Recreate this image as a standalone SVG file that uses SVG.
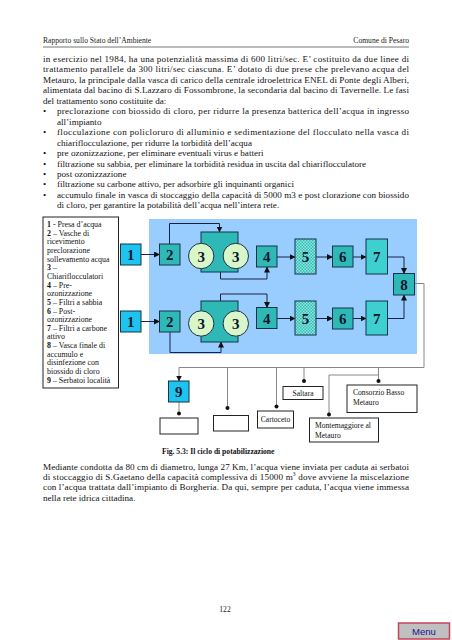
<svg xmlns="http://www.w3.org/2000/svg" width="452" height="640" viewBox="0 0 452 640">
<style>
.hd{font-family:"Liberation Serif","Times New Roman",serif;font-size:7.6px;fill:#222}
.bd{font-family:"Liberation Serif","Times New Roman",serif;font-size:9.1px;fill:#111}
.lg{font-family:"Liberation Serif","Times New Roman",serif;font-size:7.9px;fill:#111}
.lb{font-family:"Liberation Serif","Times New Roman",serif;font-size:7.6px;fill:#111}
.cap{font-family:"Liberation Serif","Times New Roman",serif;font-size:7.6px;font-weight:bold;fill:#111}
.num{font-family:"Liberation Serif","Times New Roman",serif;font-size:15px;font-weight:bold;fill:#0b1530;text-anchor:middle}
.cy{fill:#1cc4ef;stroke:#16324a;stroke-width:1}
.tl{fill:#2fb9b6;stroke:#16324a;stroke-width:1}
.t7{fill:#3ecfcf;stroke:#16324a;stroke-width:1}
.ck{fill:url(#chk);stroke:#16324a;stroke-width:1}
.cl{fill:#d8f6c8;stroke:#16324a;stroke-width:1}
.wb{fill:#fff;stroke:#222;stroke-width:1}
.ln{fill:none;stroke:#1a2240;stroke-width:1}
.gl{fill:none;stroke:#888;stroke-width:1}
.b{font-weight:bold}
</style>
<defs>
<pattern id="chk" width="3" height="3" patternUnits="userSpaceOnUse">
<rect width="3" height="3" fill="#8fe6dc"/>
<rect width="1.5" height="1.5" fill="#33bcb8"/>
<rect x="1.5" y="1.5" width="1.5" height="1.5" fill="#33bcb8"/>
</pattern>
<marker id="ar" markerUnits="userSpaceOnUse" markerWidth="6" markerHeight="6" refX="5.5" refY="3" orient="auto">
<path d="M0,0 L6,3 L0,6 z" fill="#111"/>
</marker>
</defs>
<rect width="452" height="640" fill="#fff"/>

<g id="header">
<text class="hd" x="43" y="42.5">Rapporto sullo Stato dell’Ambiente</text>
<text class="hd" x="409" y="42.5" text-anchor="end">Comune di Pesaro</text>
<line x1="43" y1="47" x2="409" y2="47" stroke="#777" stroke-width="1.2"/>
</g>

<g id="body-text">
<text class="bd" x="43" y="62" textLength="366" lengthAdjust="spacing">in esercizio nel 1984, ha una potenzialità massima di 600 litri/sec. E’ costituito da due linee di</text>
<text class="bd" x="43" y="72.45" textLength="366" lengthAdjust="spacing">trattamento parallele da 300 litri/sec ciascuna. E’ dotato di due prese che prelevano acqua del</text>
<text class="bd" x="43" y="82.9" textLength="366" lengthAdjust="spacing">Metauro, la principale dalla vasca di carico della centrale idroelettrica ENEL di Ponte degli Alberi,</text>
<text class="bd" x="43" y="93.35" textLength="366" lengthAdjust="spacing">alimentata dal bacino di S.Lazzaro di Fossombrone, la secondaria dal bacino di Tavernelle. Le fasi</text>
<text class="bd" x="43" y="103.8">del trattamento sono costituite da:</text>
<text class="bd" x="43" y="114.25">•</text>
<text class="bd" x="57" y="114.25" textLength="352" lengthAdjust="spacing">preclorazione con biossido di cloro, per ridurre la presenza batterica dell’acqua in ingresso</text>
<text class="bd" x="57" y="124.7">all’impianto</text>
<text class="bd" x="43" y="135.15">•</text>
<text class="bd" x="57" y="135.15" textLength="352" lengthAdjust="spacing">flocculazione con policloruro di alluminio e sedimentazione del flocculato nella vasca di</text>
<text class="bd" x="57" y="145.6">chiariflocculazione, per ridurre la torbidità dell’acqua</text>
<text class="bd" x="43" y="156.05">•</text>
<text class="bd" x="57" y="156.05">pre ozonizzazione, per eliminare eventuali virus e batteri</text>
<text class="bd" x="43" y="166.5">•</text>
<text class="bd" x="57" y="166.5">filtrazione su sabbia, per eliminare la torbidità residua in uscita dal chiariflocculatore</text>
<text class="bd" x="43" y="176.95">•</text>
<text class="bd" x="57" y="176.95">post ozonizzazione</text>
<text class="bd" x="43" y="187.4">•</text>
<text class="bd" x="57" y="187.4">filtrazione su carbone attivo, per adsorbire gli inquinanti organici</text>
<text class="bd" x="43" y="197.85">•</text>
<text class="bd" x="57" y="197.85" textLength="352" lengthAdjust="spacing">accumulo finale in vasca di stoccaggio della capacità di 5000 m3 e post clorazione con biossido</text>
<text class="bd" x="57" y="208.3">di cloro, per garantire la potabilità dell’acqua nell’intera rete.</text>
</g>

<g id="legend">
<rect x="43" y="217" width="75.5" height="171" fill="#fff" stroke="#222" stroke-width="1"/>
<text class="lg" x="47" y="227"><tspan class="b">1</tspan> - Presa d’acqua</text>
<text class="lg" x="47" y="235.65"><tspan class="b">2</tspan> – Vasche di</text>
<text class="lg" x="47" y="244.3">ricevimento</text>
<text class="lg" x="47" y="252.95">preclorazione</text>
<text class="lg" x="47" y="261.6">sollevamento acqua</text>
<text class="lg" x="47" y="270.25"><tspan class="b">3</tspan> –</text>
<text class="lg" x="47" y="278.9">Chiariflocculatori</text>
<text class="lg" x="47" y="287.55"><tspan class="b">4</tspan> – Pre-</text>
<text class="lg" x="47" y="296.2">ozonizzazione</text>
<text class="lg" x="47" y="304.85"><tspan class="b">5</tspan> – Filtri a sabbia</text>
<text class="lg" x="47" y="313.5"><tspan class="b">6</tspan> – Post-</text>
<text class="lg" x="47" y="322.15">ozonizzazione</text>
<text class="lg" x="47" y="330.8"><tspan class="b">7</tspan> – Filtri a carbone</text>
<text class="lg" x="47" y="339.45">attivo</text>
<text class="lg" x="47" y="348.1"><tspan class="b">8</tspan> – Vasca finale di</text>
<text class="lg" x="47" y="356.75">accumulo e</text>
<text class="lg" x="47" y="365.4">disinfezione con</text>
<text class="lg" x="47" y="374.05">biossido di cloro</text>
<text class="lg" x="47" y="382.7"><tspan class="b">9</tspan> – Serbatoi località</text>
</g>

<rect id="plant-area" x="149" y="219" width="268" height="135" fill="#99ccff"/>

<g id="connectors">
<path class="ln" d="M141 254.5 H159.5" marker-end="url(#ar)"/>
<path class="ln" d="M141 321.5 H159.5" marker-end="url(#ar)"/>
<path class="ln" d="M169.5 244 V223.5 H219.5 V232" marker-end="url(#ar)"/>
<path class="ln" d="M220.5 272 V279 H267 V267" marker-end="url(#ar)"/>
<path class="ln" d="M277 257 H295" marker-end="url(#ar)"/>
<path class="ln" d="M316 257 H332.5" marker-end="url(#ar)"/>
<path class="ln" d="M353 257 H366" marker-end="url(#ar)"/>
<path class="ln" d="M387.5 257 H404 V273.5" marker-end="url(#ar)"/>
<path class="ln" d="M170 332 V352.5 H221 V342" marker-end="url(#ar)"/>
<path class="ln" d="M220.5 301 V294 H267 V307.5" marker-end="url(#ar)"/>
<path class="ln" d="M277 318.5 H295" marker-end="url(#ar)"/>
<path class="ln" d="M316 318.5 H332.5" marker-end="url(#ar)"/>
<path class="ln" d="M353 318.5 H366" marker-end="url(#ar)"/>
<path class="ln" d="M387.5 318.5 H404 V295" marker-end="url(#ar)"/>
<path class="gl" d="M414.5 283.5 H424 V367.5 H179 V381" marker-end="url(#ar)"/>
<path class="gl" d="M227.5 367.5 V408"/>
<path class="gl" d="M276.5 367.5 V406.5"/>
<path class="gl" d="M304 367.5 V381"/>
<path class="gl" d="M378.5 367.5 V381"/>
<path class="gl" d="M329 414.5 V375 H378.5"/>
<path class="gl" d="M179 402 V413.5"/>
<g fill="#111">
<circle cx="179" cy="413.5" r="2"/>
<circle cx="227.5" cy="408" r="2"/>
<circle cx="276.5" cy="406.5" r="2"/>
<circle cx="304" cy="381" r="2"/>
<circle cx="378.5" cy="381" r="2"/>
<circle cx="329" cy="414.5" r="2"/>
</g>
</g>

<g id="n1a"><rect class="cy" x="120.5" y="244" width="20.5" height="21"/><text class="num" x="130.75" y="260">1</text></g>
<g id="n2a"><rect class="tl" x="159.5" y="244" width="20.5" height="21"/><text class="num" x="169.75" y="260">2</text></g>
<g id="n3a"><rect class="tl" x="201" y="232" width="37" height="40"/><circle class="cl" cx="201.2" cy="256" r="12.7"/><circle class="cl" cx="235.8" cy="256" r="12.7"/><text class="num" x="201.2" y="261.5">3</text><text class="num" x="235.8" y="261.5">3</text></g>
<g id="n4a"><rect class="tl" x="256.5" y="246" width="20.5" height="21"/><text class="num" x="266.75" y="262">4</text></g>
<g id="n5a"><rect class="ck" x="295" y="239" width="21" height="35"/><text class="num" x="305.5" y="262">5</text></g>
<g id="n6a"><rect class="tl" x="332.5" y="246" width="20.5" height="21"/><text class="num" x="342.75" y="262">6</text></g>
<g id="n7a"><rect class="t7" x="366" y="239" width="21.5" height="35"/><text class="num" x="376.75" y="262">7</text></g>

<g id="n1b"><rect class="cy" x="120.5" y="311" width="20.5" height="21"/><text class="num" x="130.75" y="327">1</text></g>
<g id="n2b"><rect class="tl" x="159.5" y="311" width="20.5" height="21"/><text class="num" x="169.75" y="327">2</text></g>
<g id="n3b"><rect class="tl" x="201" y="301" width="37" height="41"/><circle class="cl" cx="201.2" cy="323.5" r="12.7"/><circle class="cl" cx="235.8" cy="323.5" r="12.7"/><text class="num" x="201.2" y="329">3</text><text class="num" x="235.8" y="329">3</text></g>
<g id="n4b"><rect class="tl" x="256.5" y="307.5" width="20.5" height="21"/><text class="num" x="266.75" y="323.5">4</text></g>
<g id="n5b"><rect class="ck" x="295" y="301" width="21" height="34"/><text class="num" x="305.5" y="323.5">5</text></g>
<g id="n6b"><rect class="tl" x="332.5" y="308" width="20.5" height="21"/><text class="num" x="342.75" y="324">6</text></g>
<g id="n7b"><rect class="t7" x="366" y="301" width="21.5" height="34"/><text class="num" x="376.75" y="323.5">7</text></g>

<g id="n8"><rect class="tl" x="393.5" y="273.5" width="21" height="21.5"/><text class="num" x="404" y="289.5">8</text></g>
<g id="n9"><rect class="cy" x="168.5" y="381" width="20.5" height="21"/><text class="num" x="178.75" y="397">9</text></g>

<g id="res-empty1"><rect class="wb" x="160" y="418" width="38" height="16"/></g>
<g id="res-empty2"><rect class="wb" x="213.5" y="415.5" width="35" height="15.5"/></g>
<g id="res-cartoceto"><rect class="wb" x="257.5" y="411" width="36" height="17"/><text class="lb" x="275.5" y="422" text-anchor="middle">Cartoceto</text></g>
<g id="res-saltara"><rect class="wb" x="283" y="386.5" width="40" height="13"/><text class="lb" x="303" y="395.5" text-anchor="middle">Saltara</text></g>
<g id="res-montemaggiore"><rect class="wb" x="309.5" y="418" width="69" height="24"/><text class="lb" x="315" y="428">Montemaggiore al</text><text class="lb" x="315" y="437.5">Metauro</text></g>
<g id="res-consorzio"><rect class="wb" x="347" y="385" width="70" height="27.5"/><text class="lb" x="353" y="395">Consorzio Basso</text><text class="lb" x="353" y="404.5">Metauro</text></g>

<text class="cap" x="162" y="454">Fig. 5.3: Il ciclo di potabilizzazione</text>

<g id="bottom-text">
<text class="bd" x="43" y="469.5" textLength="366" lengthAdjust="spacing">Mediante condotta da 80 cm di diametro, lunga 27 Km, l’acqua viene inviata per caduta ai serbatoi</text>
<text class="bd" x="43" y="479.95" textLength="366" lengthAdjust="spacing">di stoccaggio di S.Gaetano della capacità complessiva di 15000 m<tspan dy="-3.5" font-size="5.5">3</tspan><tspan dy="3.5"> dove avviene la miscelazione</tspan></text>
<text class="bd" x="43" y="490.4" textLength="366" lengthAdjust="spacing">con l’acqua trattata dall’impianto di Borgheria. Da qui, sempre per caduta, l’acqua viene immessa</text>
<text class="bd" x="43" y="500.85">nella rete idrica cittadina.</text>
</g>

<text class="hd" x="225" y="611.5" text-anchor="middle">122</text>

<g id="menu-button">
<rect x="398.5" y="623" width="51" height="16" fill="#c0c0c0" stroke="#c2455a" stroke-width="1.5"/>
<text x="424" y="634.5" text-anchor="middle" font-family="Liberation Sans, Arial, sans-serif" font-size="9.5" fill="#14148a">Menu</text>
</g>
</svg>
